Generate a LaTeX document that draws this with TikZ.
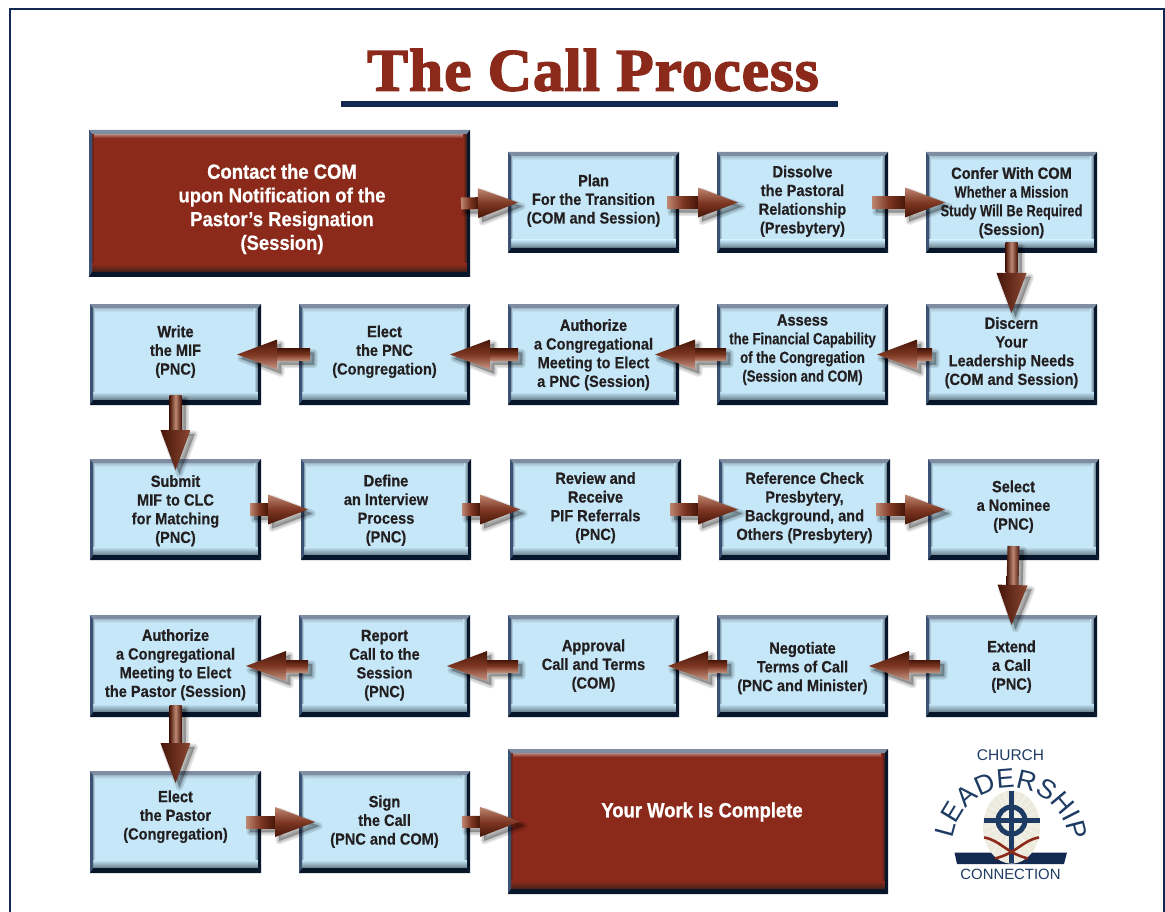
\documentclass[tikz,border=0pt]{standalone}
\usepackage{fontspec}
\usetikzlibrary{calc,decorations.text}
\setmainfont{Liberation Sans}[FakeStretch=0.90,FakeBold=0.25]
\newfontfamily\hvy{Liberation Sans}[FakeStretch=0.90,FakeBold=0.9]
\newfontfamily\titlef{Liberation Serif}[FakeBold=2.6,FakeStretch=1.02]
\newfontfamily\logof{Liberation Sans}
\definecolor{navy}{HTML}{14294F}
\definecolor{titlered}{HTML}{8B2A1A}
\definecolor{bluefill}{HTML}{C5E7F8}
\definecolor{bluefade}{HTML}{5C707C}
\definecolor{bluetext}{HTML}{231F20}
\definecolor{redfill}{HTML}{8B2A1A}
\definecolor{redfade}{HTML}{3A1F1A}
\definecolor{edgetop}{HTML}{7F8DA3}
\definecolor{edgedark}{HTML}{07162B}
\definecolor{edgeleft}{HTML}{3B5275}
\definecolor{bluetop}{HTML}{9DB4C4}
\definecolor{redtop}{HTML}{C4A29A}
\definecolor{logoblue}{HTML}{1D3B63}
\definecolor{logopale}{HTML}{ECEADC}
\definecolor{arlight}{HTML}{BE8772}
\definecolor{armid}{HTML}{7E3722}
\definecolor{ardark}{HTML}{461608}
\tikzset{
  x=1pt,y=1pt,
  boxnode/.style={inner sep=0pt,outer sep=0pt,draw=none},
  boxtext/.style={inner sep=0pt,align=center,font=\fontsize{16.2}{18.7}\selectfont\bfseries},
  bigtext/.style={inner sep=0pt,align=center,text=white,font=\fontsize{20.5}{23.7}\selectfont\bfseries},
  shaftR/.style={left color=arlight,right color=ardark,middle color=armid},
  headR/.style={shading angle=125,top color=arlight,bottom color=ardark,middle color=armid},
  shaftL/.style={top color=ardark,bottom color=arlight,middle color=armid},
  headL/.style={top color=ardark,bottom color=arlight!85!white,middle color=armid},
  shaftD/.style={left color=ardark,right color=ardark,middle color=arlight},
  headD/.style={left color=ardark,right color=armid!80!arlight},
  shadowpoly/.style={fill=black,draw=black,opacity=.10,line join=round},
}
% name, x0,y0,x1,y1, colour prefix
\newcommand\bx[6]{%
  \pgfmathsetmacro\bcx{(#2+#4)/2}\pgfmathsetmacro\bcy{-(#3+#5)/2}%
  \pgfmathsetmacro\bw{#4-#2}\pgfmathsetmacro\bh{#5-#3}%
  \node[boxnode,fill=#6fill,minimum width=\bw,minimum height=\bh] (#1) at (\bcx,\bcy) {};
  \shade[top color=#6top,bottom color=#6fill] ([xshift=3,yshift=-3]#1.north west) rectangle ([xshift=-3,yshift=-8]#1.north east);
  \shade[left color=#6fade!50!#6fill,right color=#6fill] ([xshift=3,yshift=4]#1.south west) rectangle ([xshift=5,yshift=-4]#1.north west);
  \shade[left color=#6fill,right color=#6fade] ([xshift=-7,yshift=4]#1.south east) rectangle ([xshift=-3,yshift=-4]#1.north east);
  \shade[top color=#6fill,bottom color=#6fade] ([xshift=3,yshift=13]#1.south west) rectangle ([xshift=-3,yshift=4]#1.south east);
  \fill[edgetop] (#1.north west) -- (#1.north east) -- ([xshift=-3,yshift=-4]#1.north east) -- ([xshift=3,yshift=-4]#1.north west) -- cycle;
  \fill[edgeleft] (#1.north west) -- ([xshift=3,yshift=-4]#1.north west) -- ([xshift=3,yshift=5]#1.south west) -- (#1.south west) -- cycle;
  \fill[edgedark] (#1.north east) -- ([xshift=-3,yshift=-4]#1.north east) -- ([xshift=-3,yshift=5]#1.south east) -- (#1.south east) -- cycle;
  \fill[edgedark] (#1.south west) -- ([xshift=3,yshift=5]#1.south west) -- ([xshift=-3,yshift=5]#1.south east) -- (#1.south east) -- cycle;
}
% arrow polygon between two named coordinates as, ae; #1 = R/L/D
\newcommand\arrowpoly[1]{%
  \coordinate (hb) at ($(ae)!40pt!(as)$);
  \coordinate (s1) at ($(as)!6pt!90:(ae)$);
  \coordinate (s2) at ($(as)!6pt!-90:(ae)$);
  \coordinate (m1) at ($(hb)!6pt!90:(ae)$);
  \coordinate (m2) at ($(hb)!6pt!-90:(ae)$);
  \coordinate (h1) at ($(hb)!15pt!90:(ae)$);
  \coordinate (h2) at ($(hb)!15pt!-90:(ae)$);
  \foreach \lw in {7,4,1}{
    \path[shadowpoly,line width=\lw,transform canvas={xshift=4,yshift=-4}] (s1) -- (m1) -- (h1) -- (ae) -- (h2) -- (m2) -- (s2) -- cycle;
  }
  \shade[shaft#1] (s1) -- (m1) -- (m2) -- (s2) -- cycle;
  \shade[head#1] (h1) -- (ae) -- (h2) -- cycle;
}
% R/L/D connector: source, target, inset in source, inset in target
\newcommand\connR[4]{\coordinate (as) at ([xshift=-#3]#1.east);\coordinate (ae) at ([xshift=#4]#2.west);\arrowpoly{R}}
\newcommand\connL[4]{\coordinate (as) at ([xshift=#3]#1.west);\coordinate (ae) at ([xshift=-#4]#2.east);\arrowpoly{L}}
\newcommand\connD[4]{\coordinate (as) at ([yshift=#3]#1.south);\coordinate (ae) at ([yshift=-#4]#2.north);\arrowpoly{D}}
% text node: owner name, y from top, first line, other lines
\newcommand\tx[4]{\path let \p1=(#1.center) in node[boxtext,text=bluetext] (#1T) at (\x1,-#2-0.7) {{\hvy\bfseries #3}#4};}
\begin{document}
\begin{tikzpicture}
\useasboundingbox (0,0) rectangle (1165,-912);
% frame
\draw[navy,line width=2.6,line join=miter] (10,-914) -- (10,-9) -- (1164.5,-9) -- (1164.5,-914);
% title
\node[inner sep=0,text=titlered,anchor=base,font=\fontsize{60}{60}\selectfont\titlef\bfseries] (title) at (593,-90.5) {\addfontfeature{LetterSpace=1.8}The Call Process};
\coordinate (ulA) at (341,-104);
\coordinate (ulB) at (838,-104);
\draw[navy,line width=5.6] (ulA) -- (ulB);
% boxes
\bx{contact}{89}{130}{470}{277}{red}
\bx{plan}{508}{152}{679}{253}{blue}
\bx{dissolve}{717}{152}{888}{253}{blue}
\bx{confer}{926}{152}{1097}{253}{blue}
\bx{write}{90}{304}{261}{405}{blue}
\bx{electpnc}{299}{304}{470}{405}{blue}
\bx{authpnc}{508}{304}{679}{405}{blue}
\bx{assess}{717}{304}{888}{405}{blue}
\bx{discern}{926}{304}{1097}{405}{blue}
\bx{submit}{90}{459}{261}{560}{blue}
\bx{define}{301}{459}{471}{560}{blue}
\bx{review}{510}{459}{681}{560}{blue}
\bx{refcheck}{719}{459}{890}{560}{blue}
\bx{select}{928}{459}{1099}{560}{blue}
\bx{authpastor}{90}{615}{261}{717}{blue}
\bx{report}{299}{615}{470}{717}{blue}
\bx{approval}{508}{615}{679}{717}{blue}
\bx{negotiate}{717}{615}{888}{717}{blue}
\bx{extend}{926}{615}{1097}{717}{blue}
\bx{electpastor}{90}{771}{261}{873}{blue}
\bx{sign}{299}{771}{470}{873}{blue}
\bx{complete}{508}{749}{888}{894}{red}
% connectors
\connR{contact}{plan}{9}{10}
\connR{plan}{dissolve}{12}{21}
\connR{dissolve}{confer}{16}{19}
\connD{confer}{discern}{10}{9}
\connL{discern}{assess}{6}{11}
\connL{assess}{authpnc}{9}{24}
\connL{authpnc}{electpnc}{10}{20}
\connL{electpnc}{write}{11}{24}
\connD{write}{submit}{10}{11}
\connR{submit}{define}{11}{7}
\connR{define}{review}{9}{10}
\connR{review}{refcheck}{11}{19}
\connR{refcheck}{select}{14}{17}
\connD{select}{extend}{14}{10}
\connL{extend}{negotiate}{14}{19}
\connL{negotiate}{approval}{10}{11}
\connL{approval}{report}{10}{23}
\connL{report}{authpastor}{9}{15}
\connD{authpastor}{electpastor}{12}{12}
\connR{electpastor}{sign}{15}{16}
\connR{sign}{complete}{8}{12}
% texts
\node[bigtext] (contactT) at (282,-209) {{\hvy\bfseries Contact the COM}\\upon Notification of the\\Pastor’s Resignation\\(Session)};
\node[bigtext] (completeT) at (702,-812) {{\hvy\bfseries Your Work Is Complete}};
\tx{plan}{200}{Plan}{\\For the Transition\\(COM and Session)}
\tx{dissolve}{200.5}{Dissolve}{\\the Pastoral\\Relationship\\(Presbytery)}
\tx{confer}{202}{Confer With COM}{\\\scalebox{.885}[1]{Whether a Mission}\\\scalebox{.885}[1]{Study Will Be Required}\\(Session)}
\tx{discern}{352}{Discern}{\\Your\\Leadership Needs\\(COM and Session)}
\tx{assess}{349}{Assess}{\\\scalebox{.9}[1]{the Financial Capability}\\\scalebox{.9}[1]{of the Congregation}\\\scalebox{.9}[1]{(Session and COM)}}
\tx{authpnc}{354}{Authorize}{\\a Congregational\\Meeting to Elect\\a PNC (Session)}
\tx{electpnc}{351}{Elect}{\\the PNC\\(Congregation)}
\tx{write}{351}{Write}{\\the MIF\\(PNC)}
\tx{submit}{510}{Submit}{\\MIF to CLC\\for Matching\\(PNC)}
\tx{define}{509.5}{Define}{\\an Interview\\Process\\(PNC)}
\tx{review}{507}{Review and}{\\{\hvy\bfseries Receive}\\PIF Referrals\\(PNC)}
\tx{refcheck}{507}{Reference Check}{\\Presbytery,\\Background, and\\Others (Presbytery)}
\tx{select}{506}{Select}{\\a Nominee\\(PNC)}
\tx{extend}{666}{Extend}{\\a Call\\(PNC)}
\tx{negotiate}{667.5}{Negotiate}{\\Terms of Call\\(PNC and Minister)}
\tx{approval}{665}{Approval}{\\Call and Terms\\(COM)}
\tx{report}{664.5}{Report}{\\Call to the\\Session\\(PNC)}
\tx{authpastor}{664}{Authorize}{\\a Congregational\\Meeting to Elect\\the Pastor (Session)}
\tx{electpastor}{816}{Elect}{\\the Pastor\\(Congregation)}
\tx{sign}{821}{Sign}{\\the Call\\(PNC and COM)}
% logo
\fill[navy] (954.5,-852.5) -- (1067,-852.5) -- (1064,-864) -- (957,-864) -- cycle;
\fill[logopale] (1011.5,-827) ellipse [x radius=28.5,y radius=36.5];
\begin{scope}
  \clip (1011.5,-827) ellipse [x radius=28.5,y radius=36.5];
  \foreach \a in {0,15,...,345}{\draw[white,opacity=.45,line width=1.2] (1011.5,-820) -- ++(\a:50);}
\end{scope}
\draw[logoblue,line width=5.5] (1011.5,-791) -- (1011.5,-863);
\draw[logoblue,line width=5] (984,-820.5) -- (1040,-820.5);
\draw[logoblue,line width=5] (1011.5,-820.5) circle [radius=13.5];
\draw[titlered,line width=2.6] (984,-837.5) .. controls (1000,-840) and (1006,-853) .. (1028,-858.5);
\draw[titlered,line width=2.6] (1039,-837.5) .. controls (1023,-840) and (1017,-853) .. (995,-858.5);
\node[inner sep=0,text=logoblue,font=\fontsize{15.5}{15.5}\selectfont\logof] (church) at (1010.5,-755) {CHURCH};
\node[inner sep=0,text=logoblue,font=\fontsize{14.9}{14.9}\selectfont\logof] (connection) at (1010.5,-874.5) {CONNECTION};
\path[decorate,decoration={text along path,text align={fit to path},text color=logoblue,
   text={|\fontsize{27}{27}\selectfont\logof|LEADERSHIP}}]
   (1011,-847) ++(172:59) arc [start angle=172,end angle=8,radius=59];
\end{tikzpicture}
\end{document}
